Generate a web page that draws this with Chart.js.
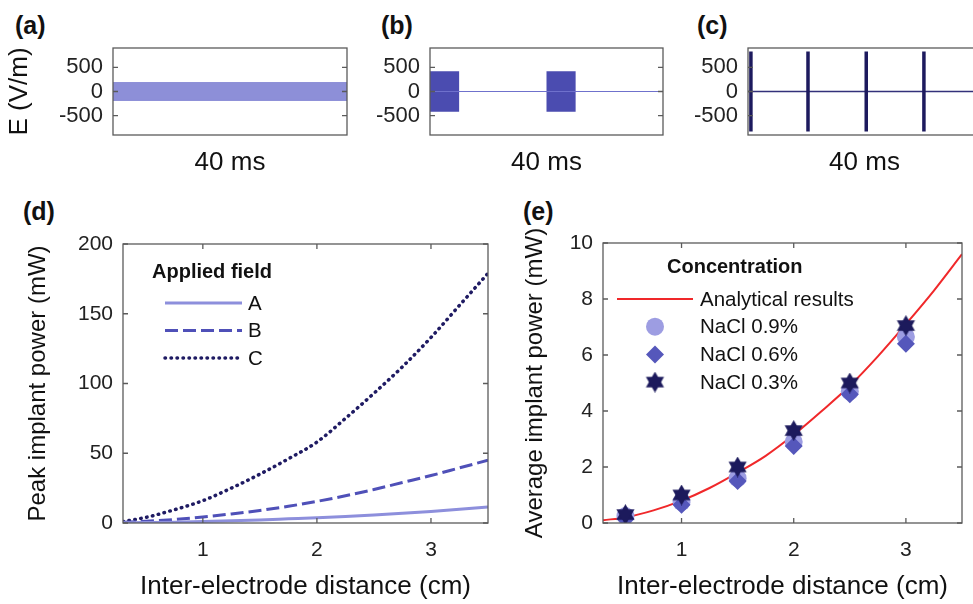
<!DOCTYPE html>
<html>
<head>
<meta charset="utf-8">
<script src="https://cdn.jsdelivr.net/npm/chart.js@4.4.1/dist/chart.umd.min.js"></script>
<style>
  body { margin: 0; width: 973px; height: 604px; overflow: hidden; background: #fff; position: relative; }
  canvas { position: absolute; }
  .lbl { position: absolute; font: bold 25px 'Liberation Sans', Arial, sans-serif; line-height: 1; color: #111; }
</style>
</head>
<body>
<div class="lbl" style="left:15px; top:13px">(a)</div>
<div class="lbl" style="left:381px; top:13px">(b)</div>
<div class="lbl" style="left:697px; top:13px">(c)</div>
<div class="lbl" style="left:23px; top:199px">(d)</div>
<div class="lbl" style="left:523px; top:199px">(e)</div>
<canvas id="pa" width="360" height="180" style="left:0; top:0"></canvas>
<canvas id="pb" width="320" height="180" style="left:360px; top:0"></canvas>
<canvas id="pc" width="320" height="180" style="left:680px; top:0"></canvas>
<canvas id="pd" width="500" height="414" style="left:0; top:190px"></canvas>
<canvas id="pe" width="493" height="414" style="left:480px; top:190px"></canvas>
<script>
const FONT = "'Liberation Sans', Arial, sans-serif";

// (a)-(c): applied field waveforms, time in ms, field in V/m
const timeA = [0, 40];
const fieldAHigh = [185, 185];
const fieldALow = [-185, -185];

const timeB = [0, 0, 5, 5, 20, 20, 25, 25, 40];
const fieldBHigh = [0, 420, 420, 0, 0, 420, 420, 0, 0];
const fieldBLow = [0, -420, -420, 0, 0, -420, -420, 0, 0];

const spikeTimesC = [0.5, 10.3, 20.3, 30.2];
const spikeHighC = [830, 830, 830, 830];
const spikeLowC = [-830, -830, -830, -830];

const baseTime = [0, 40];
const baseField = [0, 0];
const fieldTicks = [-500, 0, 500];

// (d): peak implant power (mW) vs inter-electrode distance (cm)
const distance = [0.3, 0.5, 0.75, 1, 1.25, 1.5, 1.75, 2, 2.25, 2.5, 2.75, 3, 3.25, 3.5];
const peakA = [0.1, 0.3, 0.6, 1.1, 1.6, 2.2, 3, 3.8, 4.7, 5.8, 7, 8.3, 9.8, 11.4];
const peakB = [0.5, 1.2, 2.5, 4.3, 6.5, 9, 12, 15.5, 19.5, 24, 29, 34, 39.5, 45];
const peakC = [1, 4, 9.5, 16, 25, 35, 46, 58, 75, 93, 112, 133, 156, 179];
const peakTicks = [0, 50, 100, 150, 200];
const distTicks = [1, 2, 3];

// (e): average implant power (mW)
const analytical = [0.1, 0.2, 0.45, 0.8, 1.25, 1.8, 2.4, 3.15, 4.0, 4.9, 5.95, 7.1, 8.3, 9.6];
const sampleDist = [0.5, 1, 1.5, 2, 2.5, 3];
const nacl09 = [0.25, 0.75, 1.6, 2.9, 4.7, 6.65];
const nacl06 = [0.15, 0.65, 1.5, 2.75, 4.6, 6.4];
const nacl03 = [0.3, 1.0, 2.0, 3.3, 5.0, 7.05];
const avgTicks = [0, 2, 4, 6, 8, 10];

function pts(xs, ys) {
  return xs.map((x, i) => ({ x, y: ys[i] }));
}

function spikes(ts, hi, lo) {
  const out = [];
  ts.forEach((t, i) => {
    out.push({ x: t, y: lo[i] }, { x: t, y: hi[i] }, { x: t, y: null });
  });
  return out;
}

function hexagram(size, color) {
  const c = document.createElement("canvas");
  c.width = c.height = size;
  const g = c.getContext("2d");
  const r = size / 2;
  g.fillStyle = color;
  [-Math.PI / 2, Math.PI / 2].forEach((a0) => {
    g.beginPath();
    for (let k = 0; k < 3; k++) {
      const a = a0 + (k * 2 * Math.PI) / 3;
      g.lineTo(r + r * Math.cos(a), r + r * Math.sin(a));
    }
    g.closePath();
    g.fill();
  });
  return c;
}

// matlab-like box with inward ticks on all four sides
const frame = {
  id: "frame",
  afterDatasetsDraw(chart) {
    const { ctx, chartArea: a, scales } = chart;
    ctx.save();
    ctx.strokeStyle = "#5b5b5b";
    ctx.lineWidth = 1.3;
    ctx.beginPath();
    scales.x.ticks.forEach((t) => {
      const px = scales.x.getPixelForValue(t.value);
      ctx.moveTo(px, a.bottom); ctx.lineTo(px, a.bottom - 5);
      ctx.moveTo(px, a.top); ctx.lineTo(px, a.top + 5);
    });
    scales.y.ticks.forEach((t) => {
      const py = scales.y.getPixelForValue(t.value);
      ctx.moveTo(a.left, py); ctx.lineTo(a.left + 5, py);
      ctx.moveTo(a.right, py); ctx.lineTo(a.right - 5, py);
    });
    ctx.stroke();
    ctx.strokeRect(a.left, a.top, a.right - a.left, a.bottom - a.top);
    ctx.restore();
  },
};

const legendBox = {
  id: "legendBox",
  afterDraw(chart, args, opts) {
    if (!opts.rows) return;
    const ctx = chart.ctx;
    ctx.save();
    ctx.textBaseline = "middle";
    ctx.fillStyle = "#111";
    ctx.font = "bold 20px " + FONT;
    ctx.fillText(opts.title, opts.titleX, opts.titleY);
    ctx.font = "20.5px " + FONT;
    opts.rows.forEach((idx, i) => {
      const ds = chart.data.datasets[idx];
      const y = opts.y + i * opts.step;
      if (ds.showLine === false) {
        ctx.fillStyle = ds.backgroundColor;
        ctx.strokeStyle = ds.borderColor;
        Chart.helpers.drawPoint(ctx, { pointStyle: ds.pointStyle, radius: ds.pointRadius, rotation: 0, borderWidth: 0 }, opts.markX, y);
      } else {
        ctx.strokeStyle = ds.borderColor;
        ctx.lineWidth = ds.borderWidth;
        ctx.lineCap = ds.borderCapStyle || "butt";
        ctx.setLineDash(ds.borderDash || []);
        ctx.beginPath();
        ctx.moveTo(opts.lineX0, y);
        ctx.lineTo(opts.lineX1, y);
        ctx.stroke();
        ctx.setLineDash([]);
      }
      ctx.fillStyle = "#111";
      ctx.fillText(ds.label, opts.textX, y + 1);
    });
    ctx.restore();
  },
};

function axes(g) {
  return {
    x: {
      type: "linear",
      min: g.xMin,
      max: g.xMax,
      afterFit: (s) => { s.height = g.xHeight; },
      afterBuildTicks: (s) => { s.ticks = g.xTicks.map((v) => ({ value: v })); },
      grid: { display: false, drawTicks: false },
      border: { display: false },
      ticks: { autoSkip: false, maxRotation: 0, padding: 15, color: "#222", font: { family: FONT, size: g.tickSize } },
      title: { display: true, text: g.xTitle, color: "#111", padding: 2, font: { family: FONT, size: 26, lineHeight: 1.2 } },
    },
    y: {
      type: "linear",
      min: g.yMin,
      max: g.yMax,
      afterFit: (s) => { s.width = g.yWidth; },
      afterBuildTicks: (s) => { s.ticks = g.yTicks.map((v) => ({ value: v })); },
      grid: { display: false, drawTicks: false },
      border: { display: false },
      ticks: { autoSkip: false, padding: 10, color: "#222", font: { family: FONT, size: g.tickSize } },
      title: { display: !!g.yTitle, text: g.yTitle || "", color: "#111", padding: g.yTitlePad || 0, font: { family: FONT, size: g.yTitleSize || 26, lineHeight: 1.2 } },
    },
  };
}

function makeChart(id, datasets, scales, padding, legend) {
  const ctx = document.getElementById(id).getContext("2d");
  return new Chart(ctx, {
    type: "line",
    data: { datasets },
    options: {
      responsive: false,
      animation: false,
      events: [],
      layout: { padding },
      elements: { point: { radius: 0 }, line: { tension: 0 } },
      plugins: { legend: { display: false }, tooltip: { enabled: false }, legendBox: legend || {} },
      scales,
    },
    plugins: [frame, legendBox],
  });
}

const fieldGeom = { xMin: 0, xMax: 40, xTicks: [], xTitle: "40 ms", xHeight: 45, yMin: -900, yMax: 900, yTicks: fieldTicks, tickSize: 22 };

makeChart("pa", [
  { data: pts(timeA, fieldAHigh), borderColor: "#8d8fd8", borderWidth: 1 },
  { data: pts(timeA, fieldALow), borderColor: "#8d8fd8", borderWidth: 1, fill: "-1", backgroundColor: "#8d8fd8" },
], axes({ ...fieldGeom, yWidth: 113, yTitle: "E (V/m)", yTitlePad: 4 }), { left: 0, right: 13, top: 48, bottom: 0 });

makeChart("pb", [
  { data: pts(baseTime, baseField), borderColor: "#6f71cc", borderWidth: 1.2 },
  { data: pts(timeB, fieldBHigh), borderColor: "transparent", borderWidth: 1 },
  { data: pts(timeB, fieldBLow), borderColor: "transparent", borderWidth: 1, fill: "-1", backgroundColor: "#4b4cb0" },
], axes({ ...fieldGeom, yWidth: 70 }), { left: 0, right: 17, top: 48, bottom: 0 });

makeChart("pc", [
  { data: spikes(spikeTimesC, spikeHighC, spikeLowC), borderColor: "#1d1a5e", borderWidth: 3.5, spanGaps: false },
  { data: pts(baseTime, baseField), borderColor: "#33317a", borderWidth: 1.3 },
], axes({ ...fieldGeom, yWidth: 68 }), { left: 0, right: 19, top: 48, bottom: 0 });

makeChart("pd", [
  { label: "A", data: pts(distance, peakA), borderColor: "#8d8fdc", borderWidth: 3, cubicInterpolationMode: "monotone" },
  { label: "B", data: pts(distance, peakB), borderColor: "#4f50b8", borderWidth: 3, borderDash: [13, 5], cubicInterpolationMode: "monotone" },
  { label: "C", data: pts(distance, peakC), borderColor: "#1f1b63", borderWidth: 3.5, borderDash: [0.5, 5.5], borderCapStyle: "round", cubicInterpolationMode: "monotone" },
], axes({ xMin: 0.3, xMax: 3.5, xTicks: distTicks, xTitle: "Inter-electrode distance (cm)", xHeight: 81,
  yMin: 0, yMax: 200, yTicks: peakTicks, yWidth: 123, yTitle: "Peak implant power (mW)", yTitleSize: 24, yTitlePad: 24, tickSize: 21 }),
  { left: 0, right: 12, top: 54, bottom: 0 },
  { title: "Applied field", titleX: 152, titleY: 82, rows: [0, 1, 2], y: 113, step: 27.5, lineX0: 165, lineX1: 242, textX: 248 });

makeChart("pe", [
  { label: "NaCl 0.3%", data: pts(sampleDist, nacl03), showLine: false, pointStyle: hexagram(21, "#1c1a5c"), pointRadius: 10, backgroundColor: "#1c1a5c", borderColor: "#1c1a5c" },
  { label: "NaCl 0.6%", data: pts(sampleDist, nacl06), showLine: false, pointStyle: "rectRot", pointRadius: 9, pointBorderWidth: 0, backgroundColor: "#5557bb", borderColor: "#5557bb" },
  { label: "NaCl 0.9%", data: pts(sampleDist, nacl09), showLine: false, pointStyle: "circle", pointRadius: 9, pointBorderWidth: 0, backgroundColor: "#9d9de2", borderColor: "#9d9de2" },
  { label: "Analytical results", data: pts(distance, analytical), borderColor: "#f0282a", borderWidth: 2, cubicInterpolationMode: "monotone" },
], axes({ xMin: 0.3, xMax: 3.5, xTicks: distTicks, xTitle: "Inter-electrode distance (cm)", xHeight: 81,
  yMin: 0, yMax: 10, yTicks: avgTicks, yWidth: 123, yTitle: "Average implant power (mW)", yTitleSize: 24, yTitlePad: 41, tickSize: 21 }),
  { left: 0, right: 5, top: 53, bottom: 0 },
  { title: "Concentration", titleX: 187, titleY: 77, rows: [3, 2, 1, 0], y: 109, step: 27.7, lineX0: 137, lineX1: 213, markX: 175, textX: 220 });
</script>
</body>
</html>
